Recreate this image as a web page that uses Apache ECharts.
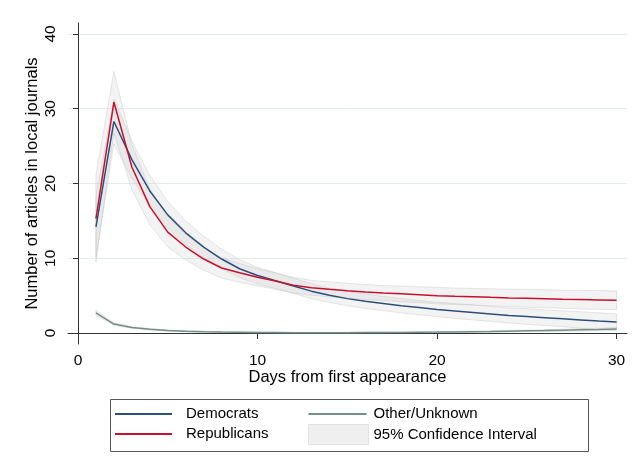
<!DOCTYPE html>
<html>
<head>
<meta charset="utf-8">
<script src="https://cdn.jsdelivr.net/npm/echarts@6/dist/echarts.min.js"></script>
<style>
  html, body { margin: 0; padding: 0; background: #fff; }
  #chart { width: 638px; height: 468px; }
</style>
</head>
<body>
<div id="chart"></div>
<script>
// days from first appearance (x)
const days = [1, 2, 3, 4, 5, 6, 7, 8, 9, 10, 11, 12, 13, 14, 15, 16, 17, 18, 19, 20, 21, 22, 23, 24, 25, 26, 27, 28, 29, 30]

// fitted number of articles
const democrats = [14.2, 28.3, 23.2, 19.0, 15.8, 13.4, 11.5, 9.9, 8.6, 7.7, 7.0, 6.3, 5.6, 5.05, 4.6, 4.25, 3.95, 3.65, 3.4, 3.15, 2.95, 2.75, 2.55, 2.35, 2.2, 2.05, 1.9, 1.75, 1.6, 1.47]
const republicans = [15.3, 30.9, 22.2, 16.9, 13.5, 11.5, 9.9, 8.7, 8.05, 7.45, 6.95, 6.4, 6.05, 5.84, 5.66, 5.49, 5.35, 5.24, 5.13, 5.0, 4.92, 4.85, 4.77, 4.7, 4.64, 4.58, 4.52, 4.47, 4.42, 4.37]
const otherUnknown = [2.7, 1.2, 0.75, 0.5, 0.35, 0.25, 0.18, 0.13, 0.1, 0.08, 0.06, 0.05, 0.05, 0.05, 0.05, 0.06, 0.07, 0.08, 0.1, 0.12, 0.15, 0.18, 0.21, 0.25, 0.29, 0.33, 0.38, 0.43, 0.48, 0.55]

// 95% confidence bounds
const demLower = [10.2, 25.3, 20.7, 16.9, 14.0, 11.8, 10.05, 8.6, 7.4, 6.6, 5.95, 5.3, 4.6, 4.1, 3.65, 3.3, 3.0, 2.7, 2.45, 2.2, 1.95, 1.75, 1.55, 1.35, 1.15, 1.0, 0.85, 0.65, 0.5, 0.37]
const demUpper = [18.2, 31.3, 25.7, 21.1, 17.6, 15.0, 12.95, 11.2, 9.8, 8.8, 8.05, 7.3, 6.6, 6.0, 5.55, 5.2, 4.9, 4.6, 4.35, 4.1, 3.95, 3.75, 3.55, 3.35, 3.25, 3.1, 2.95, 2.85, 2.7, 2.57]
const repLower = [9.5, 26.8, 19.2, 14.5, 11.5, 9.8, 8.4, 7.35, 6.8, 6.3, 5.85, 5.35, 5.05, 4.84, 4.66, 4.49, 4.35, 4.19, 4.08, 3.9, 3.82, 3.75, 3.62, 3.55, 3.44, 3.38, 3.32, 3.22, 3.17, 3.12]
const repUpper = [21.1, 35.0, 25.2, 19.3, 15.5, 13.2, 11.4, 10.05, 9.3, 8.6, 8.05, 7.45, 7.05, 6.84, 6.66, 6.49, 6.35, 6.29, 6.18, 6.1, 6.02, 5.95, 5.92, 5.85, 5.84, 5.78, 5.72, 5.72, 5.67, 5.62]
const othLower = [2.35, 1.05, 0.65, 0.42, 0.28, 0.19, 0.13, 0.09, 0.06, 0.04, 0.03, 0.02, 0.02, 0.02, 0.02, 0.02, 0.03, 0.04, 0.05, 0.06, 0.08, 0.1, 0.12, 0.15, 0.18, 0.21, 0.25, 0.28, 0.32, 0.37]
const othUpper = [3.05, 1.35, 0.85, 0.58, 0.42, 0.31, 0.23, 0.17, 0.14, 0.12, 0.09, 0.08, 0.08, 0.08, 0.08, 0.1, 0.11, 0.12, 0.15, 0.18, 0.22, 0.26, 0.3, 0.35, 0.4, 0.45, 0.51, 0.58, 0.64, 0.73]

// axis ticks
const xTicks = [0, 10, 20, 30]
const yTicks = [0, 10, 20, 30, 40]

const FONT = "'Liberation Sans', Arial, Helvetica, sans-serif"
const bands = [[demLower, demUpper], [repLower, repUpper], [othLower, othUpper]]

const pairs = arr => days.map((d, i) => [d, arr[i]])

const chart = echarts.init(document.getElementById('chart'))

const option = {
  backgroundColor: '#fff',
  animation: false,
  textStyle: { fontFamily: FONT },
  grid: { left: 68, right: 11, top: 23, bottom: 124 },
  xAxis: {
    type: 'value',
    min: -0.557,
    max: 30.58,
    name: 'Days from first appearance',
    nameLocation: 'middle',
    nameGap: 25,
    nameMoveOverlap: false,
    nameTextStyle: { color: '#000', fontSize: 16.5, fontFamily: FONT },
    axisLine: { lineStyle: { color: '#333', width: 1 } },
    axisTick: { customValues: xTicks, length: 6, lineStyle: { color: '#333' } },
    axisLabel: { customValues: xTicks, color: '#000', fontSize: 15.5, margin: 9, fontFamily: FONT },
    splitLine: { show: false }
  },
  yAxis: {
    type: 'value',
    min: -1.47,
    max: 41.47,
    name: 'Number of articles in local journals',
    nameLocation: 'middle',
    nameGap: 27,
    nameMoveOverlap: false,
    nameTextStyle: { color: '#000', fontSize: 16.5, fontFamily: FONT },
    axisLine: { show: true, lineStyle: { color: '#333', width: 1 } },
    axisTick: { show: true, customValues: yTicks, length: 5, lineStyle: { color: '#333' } },
    axisLabel: { customValues: yTicks, rotate: 90, color: '#000', fontSize: 15.5, margin: 9, fontFamily: FONT },
    splitLine: { show: true, lineStyle: { color: '#e3edf0', width: 1 } }
  },
  legend: [
    {
      left: 115,
      top: 404,
      orient: 'vertical',
      padding: 0,
      itemGap: 0,
      itemWidth: 66,
      itemHeight: 20,
      symbolKeepAspect: false,
      itemStyle: { borderWidth: 0 },
      textStyle: { color: '#000', fontSize: 15, fontFamily: FONT },
      icon: 'path://M0,9L57,9L57,11L0,11Z M0,0L0,0 M66,20L66,20',
      data: ['Democrats', 'Republicans']
    },
    {
      left: 308,
      top: 404,
      orient: 'vertical',
      padding: 0,
      itemGap: 0,
      itemWidth: 60,
      itemHeight: 20,
      symbolKeepAspect: false,
      itemStyle: { borderWidth: 0 },
      textStyle: { color: '#000', fontSize: 15, fontFamily: FONT },
      data: [
        { name: 'Other/Unknown', icon: 'path://M0,9L58,9L58,11L0,11Z M0,0L0,0 M60,20L60,20' },
        { name: '95% Confidence Interval', icon: 'rect', itemStyle: { color: '#efefef', borderColor: '#e2e2e2', borderWidth: 1 } }
      ]
    }
  ],
  graphic: [
    {
      type: 'rect',
      left: 108,
      top: 397,
      shape: { width: 478, height: 52 },
      style: { fill: 'none', stroke: '#555', lineWidth: 1 },
      silent: true
    }
  ],
  series: [
    {
      name: '95% Confidence Interval',
      type: 'custom',
      z: 1,
      silent: true,
      itemStyle: { color: '#efefef' },
      data: bands.map((b, i) => [i + 1, b[0][0]]),
      renderItem: function (params, api) {
        const b = bands[params.dataIndex]
        const pts = []
        days.forEach((d, i) => pts.push(api.coord([d, b[1][i]])))
        for (let i = days.length - 1; i >= 0; i--) pts.push(api.coord([days[i], b[0][i]]))
        return {
          type: 'polygon',
          shape: { points: pts },
          style: { fill: 'rgba(200,200,200,0.22)', stroke: 'rgba(185,185,185,0.35)', lineWidth: 1 }
        }
      }
    },
    {
      name: 'Other/Unknown',
      type: 'line',
      z: 3,
      symbol: 'none',
      color: '#71908a',
      lineStyle: { width: 1.5, color: '#71908a' },
      data: pairs(otherUnknown)
    },
    {
      name: 'Democrats',
      type: 'line',
      z: 4,
      symbol: 'none',
      color: '#2c4f7e',
      lineStyle: { width: 1.5, color: '#2c4f7e' },
      data: pairs(democrats)
    },
    {
      name: 'Republicans',
      type: 'line',
      z: 5,
      symbol: 'none',
      color: '#c8102e',
      lineStyle: { width: 1.5, color: '#c8102e' },
      data: pairs(republicans)
    }
  ]
}

chart.setOption(option)
</script>
</body>
</html>
